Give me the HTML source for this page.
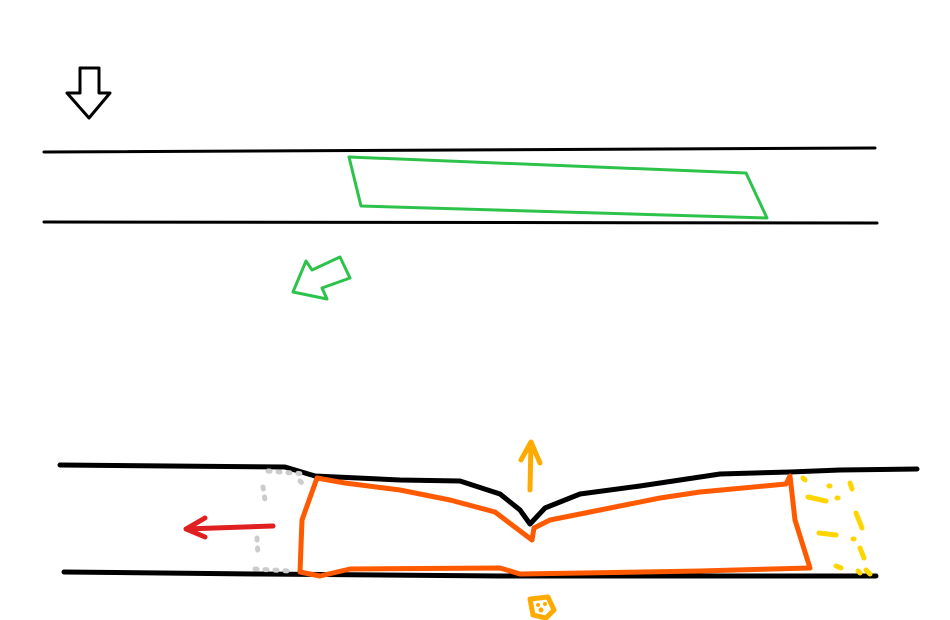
<!DOCTYPE html>
<html><head><meta charset="utf-8"><style>html,body{margin:0;padding:0;background:#fff;width:950px;height:620px;overflow:hidden}</style></head>
<body>
<svg width="950" height="620" viewBox="0 0 950 620" xmlns="http://www.w3.org/2000/svg" fill="none" stroke-linecap="round" stroke-linejoin="round">
<path d="M80 68 L99 68 L99 93 L110 93 L89 118 L67 93 L80 93 Z" stroke="#000" stroke-width="3"/>
<path d="M44 152 L875 148" stroke="#000" stroke-width="3"/>
<path d="M44 222 L877 223" stroke="#000" stroke-width="3"/>
<path d="M349 157 L746 173 L767 218 L361 206 Z" stroke="#2dc24a" stroke-width="3"/>
<path d="M293 292 L306 261 L312 270 L340 257 L350 278 L322 288 L327 299 Z" stroke="#2dc24a" stroke-width="3"/>
<path d="M60 465 L285 467 L315 476 L400 480 L460 481 L500 494 L520 510 L530 524 L545 508 L580 494 L640 486 L720 474 L790 472 L840 470 L917 469" stroke="#000" stroke-width="5"/>
<path d="M64 572 L260 574 L500 576 L876 576" stroke="#000" stroke-width="5"/>
<path d="M268 471 L305 474 M300 481 L307 488 M263 487 L265 500 M257 538 L258 556 M255 569 L290 571" stroke="#ccc" stroke-width="5" stroke-dasharray="2 8"/>
<path d="M273 526 L186 529 M205 518 L186 529 L205 537" stroke="#e02020" stroke-width="5"/>
<path d="M317 478 L345 483 L400 490 L450 500 L495 512 L532 540 L534 528 L550 520 L600 510 L660 498 L700 492 L786 484 L790 476 L795 520 L810 568 L700 571 L520 574 L500 568 L350 569 L320 576 L300 572 L302 520 Z" stroke="#ff5a00" stroke-width="5"/>
<path d="M530 490 L531 442 M521 460 L531 442 L540 463" stroke="#ffaa00" stroke-width="5"/>
<path d="M530 599 L548 597 L554 610 L546 618 L533 615 Z" stroke="#ffaa00" stroke-width="5" fill="#fff"/>
<circle cx="538" cy="605" r="2" fill="#ffaa00"/><circle cx="545" cy="604" r="2" fill="#ffaa00"/><circle cx="541" cy="610" r="2.5" fill="#ffaa00"/>
<path d="M803 478 L805 480 M829 486 L830 486 M850 483 L852 489 M808 497 L826 501 M837 498 L838 498 M856 513 L862 528 M819 533 L836 535 M853 539 L854 539 M860 548 L864 558 M836 566 L841 568 M858 571 L860 573 M866 570 L870 574" stroke="#ffd500" stroke-width="5"/>
</svg>
</body></html>
